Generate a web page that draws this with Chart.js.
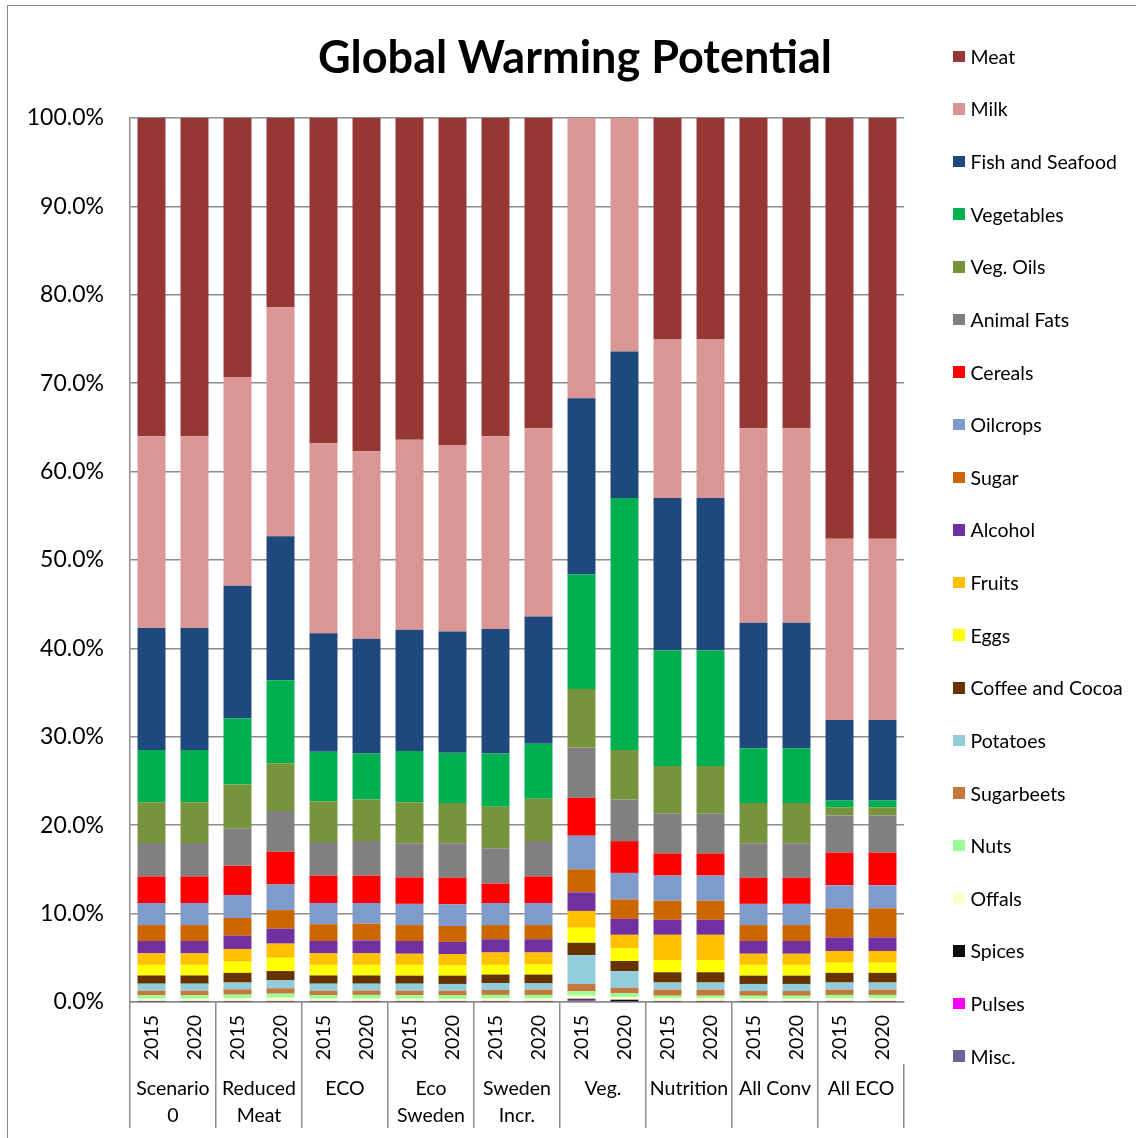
<!DOCTYPE html>
<html>
<head>
<meta charset="utf-8">
<script src="https://cdn.jsdelivr.net/npm/chart.js@4.4.0/dist/chart.umd.min.js"></script>
<style>
  html, body { margin: 0; padding: 0; background: #fff; overflow: hidden; }
  body { width: 1136px; height: 1138px; position: relative; font-family: Lato, "Open Sans", sans-serif; }
  #frame { position: absolute; left: 7px; top: 5px; width: 1300px; height: 1300px; border: 1.5px solid #878787; }
  #wrap { position: absolute; left: 0; top: 0; width: 1136px; height: 1138px; }
  #title { position: absolute; left: 0; top: 28px; width: 1150px; text-align: center; font-weight: bold; font-size: 45px; line-height: 56px; color: #000; }
  #legend { position: absolute; left: 953px; top: 30px; }
  .item { height: 52.63px; display: flex; align-items: center; font-size: 19.5px; color: #000; white-space: nowrap; }
  .box { width: 11.5px; height: 11.5px; margin-right: 6px; flex: none; }
</style>
</head>
<body>
<div id="frame"></div>
<div id="wrap"><canvas id="gwpChart"></canvas></div>
<div id="title">Global Warming Potential</div>
<div id="legend"></div>
<script>
// categories
const years = ['2015', '2020', '2015', '2020', '2015', '2020', '2015', '2020', '2015', '2020',
               '2015', '2020', '2015', '2020', '2015', '2020', '2015', '2020'];
const scenarios = [['Scenario', '0'], ['Reduced', 'Meat'], 'ECO', ['Eco', 'Sweden'], ['Sweden', 'Incr.'],
                   'Veg.', 'Nutrition', 'All Conv', 'All ECO'];
const yTicks = [0, 10, 20, 30, 40, 50, 60, 70, 80, 90, 100];

// share of GWP per food group (%), one value per bar
const meat       = [36.0, 36.0, 29.3, 21.4, 36.8, 37.7, 36.4, 37.0, 36.0, 35.1, 0, 0, 25.0, 25.0, 35.1, 35.1, 47.6, 47.6];
const milk       = [21.7, 21.7, 23.6, 25.9, 21.5, 21.2, 21.5, 21.1, 21.8, 21.3, 31.7, 26.4, 18.0, 18.0, 22.0, 22.0, 20.5, 20.5];
const fish       = [13.8, 13.8, 15.0, 16.3, 13.4, 13.0, 13.7, 13.7, 14.1, 14.4, 19.9, 16.6, 17.2, 17.2, 14.2, 14.2, 9.1, 9.1];
const vegetables = [5.9, 5.9, 7.5, 9.4, 5.6, 5.2, 5.8, 5.7, 6.0, 6.2, 13.0, 28.5, 13.1, 13.1, 6.2, 6.2, 0.8, 0.8];
const vegOils    = [4.6, 4.6, 5.0, 5.4, 4.6, 4.7, 4.65, 4.55, 4.7, 4.8, 6.6, 5.6, 5.4, 5.4, 4.55, 4.55, 0.9, 0.9];
const animalFats = [3.8, 3.8, 4.2, 4.6, 3.8, 3.9, 3.85, 3.89, 4.0, 4.0, 5.7, 4.7, 4.5, 4.5, 3.89, 3.89, 4.2, 4.2];
const cereals    = [3.0, 3.0, 3.3, 3.7, 3.1, 3.1, 3.0, 3.01, 2.2, 3.0, 4.3, 3.6, 2.5, 2.5, 2.96, 2.96, 3.7, 3.7];
const oilcrops   = [2.5, 2.5, 2.6, 2.9, 2.4, 2.34, 2.4, 2.45, 2.5, 2.5, 3.8, 3.0, 2.84, 2.84, 2.4, 2.4, 2.6, 2.6];
const sugar      = [1.8, 1.8, 2.0, 2.1, 1.9, 1.89, 1.8, 1.8, 1.6, 1.6, 2.6, 2.2, 2.16, 2.16, 1.8, 1.8, 3.3, 3.3];
const alcohol    = [1.4, 1.4, 1.5, 1.7, 1.4, 1.47, 1.44, 1.37, 1.5, 1.5, 2.1, 1.8, 1.7, 1.7, 1.44, 1.44, 1.53, 1.53];
const fruits     = [1.3, 1.3, 1.44, 1.6, 1.3, 1.3, 1.26, 1.28, 1.4, 1.35, 1.9, 1.53, 2.85, 2.85, 1.26, 1.26, 1.32, 1.32];
const eggs       = [1.2, 1.2, 1.26, 1.5, 1.2, 1.2, 1.22, 1.17, 1.1, 1.15, 1.7, 1.43, 1.39, 1.39, 1.22, 1.22, 1.15, 1.15];
const coffee     = [0.93, 0.93, 1.1, 1.05, 0.93, 0.93, 0.91, 0.94, 0.95, 1.0, 1.4, 1.14, 1.16, 1.16, 0.94, 0.94, 1.1, 1.1];
const potatoes   = [0.79, 0.79, 0.77, 0.9, 0.79, 0.77, 0.79, 0.76, 0.79, 0.7, 3.26, 1.9, 0.8, 0.8, 0.8, 0.8, 0.8, 0.8];
const sugarbeets = [0.52, 0.52, 0.6, 0.61, 0.52, 0.5, 0.52, 0.53, 0.56, 0.6, 0.84, 0.62, 0.69, 0.69, 0.53, 0.53, 0.6, 0.6];
const nuts       = [0.39, 0.39, 0.38, 0.45, 0.39, 0.43, 0.39, 0.4, 0.4, 0.4, 0.49, 0.41, 0.26, 0.26, 0.34, 0.34, 0.35, 0.35];
const offals     = [0.25, 0.25, 0.33, 0.37, 0.25, 0.25, 0.25, 0.23, 0.28, 0.28, 0.34, 0.31, 0.33, 0.33, 0.25, 0.25, 0.33, 0.33];
const spices     = [0.05, 0.05, 0.05, 0.05, 0.05, 0.05, 0.05, 0.05, 0.05, 0.05, 0.12, 0.2, 0.05, 0.05, 0.05, 0.05, 0.05, 0.05];
const pulses     = [0.02, 0.02, 0.02, 0.02, 0.02, 0.02, 0.02, 0.02, 0.02, 0.02, 0.03, 0.02, 0.02, 0.02, 0.02, 0.02, 0.02, 0.02];
const misc       = [0.05, 0.05, 0.05, 0.05, 0.05, 0.05, 0.05, 0.05, 0.05, 0.05, 0.22, 0.04, 0.05, 0.05, 0.05, 0.05, 0.05, 0.05];

// bottom of the stack first
const series = [
    ['Misc.', misc, '#666699'],
    ['Pulses', pulses, '#FF00FF'],
    ['Spices', spices, '#0D0D0D'],
    ['Offals', offals, '#FFFFCC'],
    ['Nuts', nuts, '#99FF99'],
    ['Sugarbeets', sugarbeets, '#C4783B'],
    ['Potatoes', potatoes, '#92CDDC'],
    ['Coffee and Cocoa', coffee, '#663300'],
    ['Eggs', eggs, '#FFFF00'],
    ['Fruits', fruits, '#FFC000'],
    ['Alcohol', alcohol, '#7030A0'],
    ['Sugar', sugar, '#CC6600'],
    ['Oilcrops', oilcrops, '#7F9BCB'],
    ['Cereals', cereals, '#FF0000'],
    ['Animal Fats', animalFats, '#808080'],
    ['Veg. Oils', vegOils, '#77933C'],
    ['Vegetables', vegetables, '#00B050'],
    ['Fish and Seafood', fish, '#1F497D'],
    ['Milk', milk, '#D99694'],
    ['Meat', meat, '#953735']
];

// 100% stacked: scale every bar to a total of 100
const totals = years.map((_, i) => series.reduce((s, d) => s + d[1][i], 0));

const gridGrey = '#8c8c8c';

const ctx = document.getElementById('gwpChart').getContext('2d');
const gwpChart = new Chart(ctx, {
    type: 'bar',
    data: {
        labels: years,
        datasets: series.map(d => ({
            label: d[0],
            data: d[1].map((v, i) => v / totals[i] * 100),
            backgroundColor: d[2],
            borderWidth: 0,
            barPercentage: 0.65,
            categoryPercentage: 1
        }))
    },
    options: {
        responsive: true,
        maintainAspectRatio: false,
        animation: false,
        layout: { padding: { left: 0, right: 232, top: 118, bottom: 10 } },
        plugins: {
            legend: { display: false },
            title: { display: false },
            tooltip: { enabled: false }
        },
        scales: {
            x: {
                stacked: true,
                weight: 0,
                offset: true,
                border: { display: true, color: gridGrey, width: 1.5 },
                grid: {
                    offset: true,
                    drawOnChartArea: false,
                    drawTicks: true,
                    tickLength: 62,
                    lineWidth: 1.5,
                    color: c => (c.index % 2 === 0 ? gridGrey : 'rgba(0,0,0,0)')
                },
                ticks: {
                    minRotation: 90,
                    maxRotation: 90,
                    autoSkip: false,
                    padding: -49,
                    color: '#000',
                    font: { family: 'Lato', size: 19.5 }
                },
                afterFit: s => { s.height = 62; }
            },
            x2: {
                type: 'category',
                position: 'bottom',
                labels: scenarios,
                weight: 1,
                offset: true,
                border: { display: false },
                grid: {
                    offset: true,
                    drawOnChartArea: false,
                    drawTicks: true,
                    tickLength: 64,
                    lineWidth: 1.5,
                    color: gridGrey
                },
                ticks: {
                    maxRotation: 0,
                    autoSkip: false,
                    padding: -52,
                    color: '#000',
                    font: { family: 'Lato', size: 19.5, lineHeight: 1.35 }
                },
                afterFit: s => { s.height = 64; }
            },
            y: {
                stacked: true,
                min: 0,
                max: 100,
                afterBuildTicks: s => { s.ticks = yTicks.map(v => ({ value: v })); },
                border: { display: true, color: gridGrey, width: 1.5 },
                grid: { color: gridGrey, lineWidth: 1.5, drawTicks: false },
                ticks: {
                    padding: 26,
                    color: '#000',
                    font: { family: 'Lato', size: 23 },
                    callback: v => v.toFixed(1) + '%'
                },
                afterFit: s => { s.width = 130; }
            }
        }
    }
});

// legend, top item is the top of the stack
const legend = document.getElementById('legend');
gwpChart.data.datasets.slice().reverse().forEach(ds => {
    const item = document.createElement('div');
    item.className = 'item';
    const box = document.createElement('span');
    box.className = 'box';
    box.style.background = ds.backgroundColor;
    item.appendChild(box);
    item.appendChild(document.createTextNode(ds.label));
    legend.appendChild(item);
});
</script>
</body>
</html>
